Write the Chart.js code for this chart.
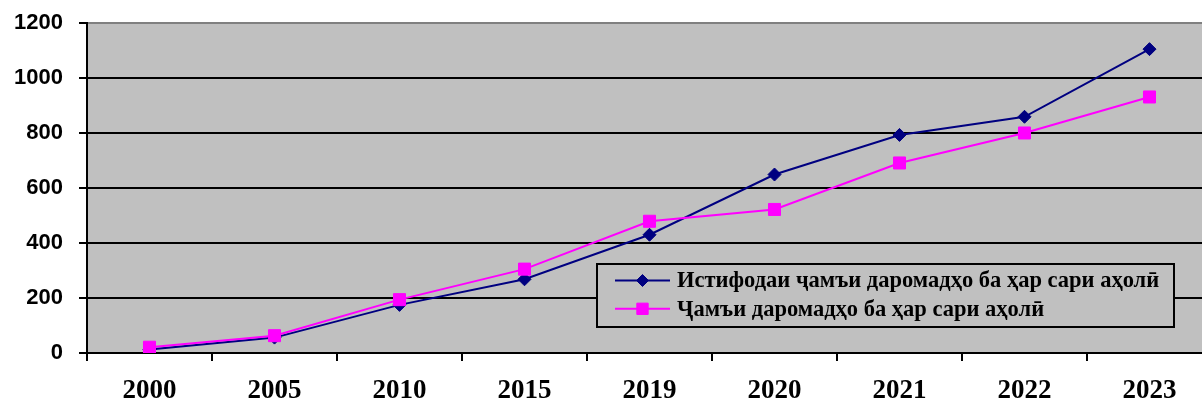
<!DOCTYPE html>
<html><head><meta charset="utf-8">
<style>
html,body{margin:0;padding:0;background:#fff;overflow:hidden;width:1202px;height:401px;}
#wrap{position:relative;width:1240px;height:401px;}
canvas{display:block;}
</style>
<script src="https://cdn.jsdelivr.net/npm/chart.js@4.4.1/dist/chart.umd.min.js"></script>
</head><body>
<div id="wrap"><canvas id="c" width="1240" height="401" style="width:1240px;height:401px"></canvas></div>
<script>
const categories = ['2000','2005','2010','2015','2019','2020','2021','2022','2023'];
const disposableIncome = [13, 56, 175, 268, 430, 649, 793, 859, 1105];
const totalIncome = [21, 63, 194, 305, 479, 522, 691, 800, 931];
const yTickValues = [0, 200, 400, 600, 800, 1000, 1200];
const seriesLabels = ['Истифодаи ҷамъи даромадҳо ба ҳар сари аҳолӣ', 'Ҷамъи даромадҳо ба ҳар сари аҳолӣ'];

const plotBg = {
  id: 'plotBg',
  beforeDraw(chart) {
    const {ctx, chartArea: a} = chart;
    ctx.save();
    ctx.fillStyle = '#c0c0c0';
    ctx.fillRect(a.left, a.top, a.right - a.left, a.bottom - a.top);
    ctx.restore();
  }
};

const boxLegend = {
  id: 'boxLegend',
  afterDatasetsDraw(chart) {
    const ctx = chart.ctx;
    const bx = 597, by = 264, bw = 577, bh = 63;
    ctx.save();
    ctx.fillStyle = '#c0c0c0';
    ctx.fillRect(bx, by, bw, bh);
    ctx.strokeStyle = '#000';
    ctx.lineWidth = 2;
    ctx.strokeRect(bx, by, bw, bh);
    const rows = [280.5, 308.8];
    chart.data.datasets.forEach((ds, i) => {
      const y = rows[i];
      ctx.strokeStyle = ds.borderColor;
      ctx.lineWidth = 2;
      ctx.beginPath();
      ctx.moveTo(615, y);
      ctx.lineTo(670, y);
      ctx.stroke();
      ctx.fillStyle = ds.backgroundColor;
      ctx.strokeStyle = ds.borderColor;
      ctx.lineWidth = 1;
      Chart.helpers.drawPoint(ctx, {pointStyle: ds.pointStyle, radius: ds.pointStyle === 'rect' ? 8 : 6, rotation: 0, borderWidth: 1}, 642.5, y);
      ctx.fillStyle = '#000';
      ctx.font = 'bold 22.5px "Liberation Serif"';
      ctx.textBaseline = 'middle';
      ctx.textAlign = 'left';
      ctx.fillText(ds.label, 677, y + 1);
    });
    ctx.restore();
  }
};

new Chart(document.getElementById('c'), {
  type: 'line',
  data: {
    labels: categories,
    datasets: [
      {
        label: seriesLabels[0],
        data: disposableIncome,
        borderColor: '#000080',
        backgroundColor: '#000080',
        borderWidth: 2,
        pointStyle: 'rectRot',
        pointRadius: 6.5,
        pointBorderWidth: 1,
        tension: 0,
        order: 2
      },
      {
        label: seriesLabels[1],
        data: totalIncome,
        borderColor: '#ff00ff',
        backgroundColor: '#ff00ff',
        borderWidth: 2,
        pointStyle: 'rect',
        pointRadius: 8.5,
        pointBorderWidth: 1,
        tension: 0,
        order: 1
      }
    ]
  },
  options: {
    responsive: false,
    animation: false,
    layout: {padding: {top: 23, right: 28, bottom: 0, left: 0}},
    plugins: {legend: {display: false}, tooltip: {enabled: false}},
    scales: {
      x: {
        type: 'category',
        offset: true,
        grid: {offset: true, drawOnChartArea: false, drawTicks: true, tickLength: 8, color: '#000', lineWidth: 2},
        border: {display: true, color: '#000', width: 2},
        ticks: {color: '#000', font: {family: '"Liberation Serif"', size: 27, weight: 'bold'}, padding: 14, maxRotation: 0, autoSkip: false},
        afterFit(s) { s.height = 48; s.paddingLeft = 0; s.paddingRight = 0; }
      },
      y: {
        min: 0,
        max: 1200,
        afterBuildTicks(s) { s.ticks = yTickValues.map(v => ({value: v})); },
        grid: {color: (c) => (c.tick && c.tick.value === 1200 ? '#808080' : '#000'), tickColor: '#000', lineWidth: 2, tickLength: 8, drawTicks: true},
        border: {display: true, color: '#000', width: 2},
        ticks: {color: '#000', font: {family: '"Liberation Sans"', size: 22, weight: 'bold'}, padding: 16, callback: (v) => String(v)},
        afterFit(s) { s.width = 87; s.paddingTop = 0; s.paddingBottom = 0; }
      }
    }
  },
  plugins: [plotBg, boxLegend]
});
</script>
</body></html>
